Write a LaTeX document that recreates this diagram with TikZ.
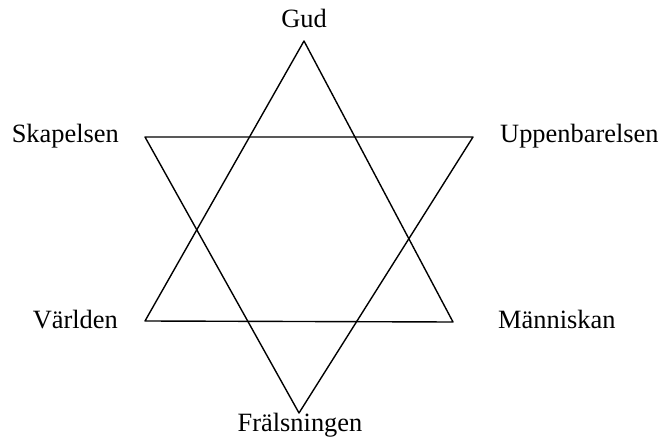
\documentclass[tikz,border=0pt]{standalone}
\usepackage{fontspec}
\setmainfont{Liberation Serif}
\begin{document}
\begin{tikzpicture}[x=1bp,y=-1bp,
  edge/.style={line width=1.4pt,line join=round},
  lbl/.style={font=\fontsize{26.5}{30}\selectfont,inner sep=0pt}]
\useasboundingbox (0,0) rectangle (660,439);
% vertices
\coordinate (A) at (304,41);
\coordinate (B) at (145,321);
\coordinate (C) at (453,322);
\coordinate (D) at (145,137);
\coordinate (E) at (473,137);
\coordinate (F) at (299,413);
\draw[edge] (A) -- (B) -- (C) -- cycle;
\draw[edge] (D) -- (E) -- (F) -- cycle;
% labels
\node[lbl,anchor=base] (gud) at (304,28) {Gud};
\node[lbl,anchor=base east] (skap) at (119,143) {Skapelsen};
\node[lbl,anchor=base west] (upp) at (500,143) {Uppenbarelsen};
\node[lbl,anchor=base east] (varl) at (118,329) {Världen};
\node[lbl,anchor=base west] (mann) at (498,329) {Människan};
\node[lbl,anchor=base] (fral) at (300,431) {Frälsningen};
\end{tikzpicture}
\end{document}
